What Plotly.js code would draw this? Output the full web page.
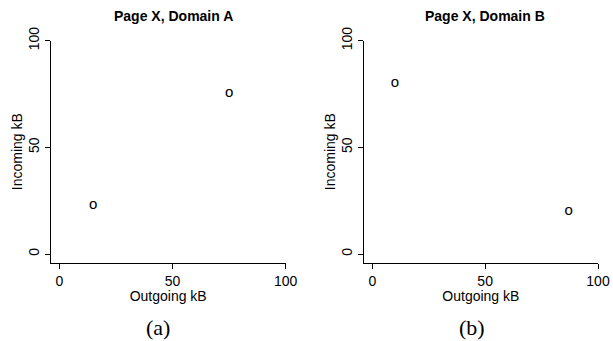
<!DOCTYPE html>
<html><head><meta charset="utf-8">
<script src="https://cdn.plot.ly/plotly-3.0.1.min.js"></script>
<style>html,body{margin:0;padding:0;background:#fff;}#c{width:613px;height:341px;}</style>
</head><body><div id="c"></div>
<script>
const outgoingA = [15, 75];
const incomingA = [23, 75.5];
const outgoingB = [10, 87];
const incomingB = [80, 20];
const titles = ["Page X, Domain A", "Page X, Domain B"];
const captions = ["(a)", "(b)"];
const tickVals = [0, 50, 100];
const tickText = ["0", "50", "100"];

const F = "Liberation Sans, Arial, Helvetica, sans-serif";
const W = 613, H = 341;
function px(x){return x/W;}
function py(y){return 1 - y/H;}

const pt = (x, y, xa, ya) => ({
  x: x, y: y, xaxis: xa, yaxis: ya, type: 'scatter', mode: 'text',
  text: x.map(() => 'o'), textposition: 'middle center',
  textfont: {family: F, size: 15, color: '#000'}, hoverinfo: 'skip', showlegend: false
});

const axCommon = {
  showgrid: false, zeroline: false, showline: true, linecolor: '#000', linewidth: 1,
  ticks: 'outside', ticklen: 5, tickcolor: '#000', tickwidth: 1,
  tickvals: tickVals, ticktext: tickText,
  tickfont: {family: F, size: 14, color: '#000'}
};

const layout = {
  width: W, height: H, margin: {l: 0, r: 0, t: 0, b: 0},
  paper_bgcolor: '#fff', plot_bgcolor: '#fff', showlegend: false,
  xaxis: Object.assign({}, axCommon, {domain: [px(50.7), px(285.7)], range: [-3.8, 100], anchor: 'y',
    title: {text: 'Outgoing kB', font: {family: F, size: 14, color: '#000'}, standoff: 1}}),
  yaxis: Object.assign({}, axCommon, {domain: [py(262.7), py(40.7)], range: [-4.06, 100], anchor: 'x', tickangle: -90,
    title: {text: 'Incoming kB', font: {family: F, size: 14, color: '#000'}, standoff: 0}}),
  xaxis2: Object.assign({}, axCommon, {domain: [px(363.7), px(598)], range: [-3.8, 100], anchor: 'y2',
    title: {text: 'Outgoing kB', font: {family: F, size: 14, color: '#000'}, standoff: 1}}),
  yaxis2: Object.assign({}, axCommon, {domain: [py(262.7), py(40.7)], range: [-4.06, 100], anchor: 'x2', tickangle: -90,
    title: {text: 'Incoming kB', font: {family: F, size: 14, color: '#000'}, standoff: 0}}),
  annotations: [
    {text: '<b>' + titles[0] + '</b>', xref: 'paper', yref: 'paper', x: px(173), y: py(16), showarrow: false,
     font: {family: F, size: 14, color: '#000'}, xanchor: 'center', yanchor: 'middle'},
    {text: '<b>' + titles[1] + '</b>', xref: 'paper', yref: 'paper', x: px(485), y: py(16), showarrow: false,
     font: {family: F, size: 14, color: '#000'}, xanchor: 'center', yanchor: 'middle'},
    {text: captions[0], xref: 'paper', yref: 'paper', x: px(158), y: 0, showarrow: false, borderpad: 0,
     font: {family: 'Liberation Serif, serif', size: 22, color: '#000'}, xanchor: 'center', yanchor: 'bottom'},
    {text: captions[1], xref: 'paper', yref: 'paper', x: px(472), y: 0, showarrow: false, borderpad: 0,
     font: {family: 'Liberation Serif, serif', size: 22, color: '#000'}, xanchor: 'center', yanchor: 'bottom'}
  ]
};

Plotly.newPlot('c', [pt(outgoingA, incomingA, 'x', 'y'), pt(outgoingB, incomingB, 'x2', 'y2')], layout,
  {staticPlot: true, displayModeBar: false});
</script></body></html>
